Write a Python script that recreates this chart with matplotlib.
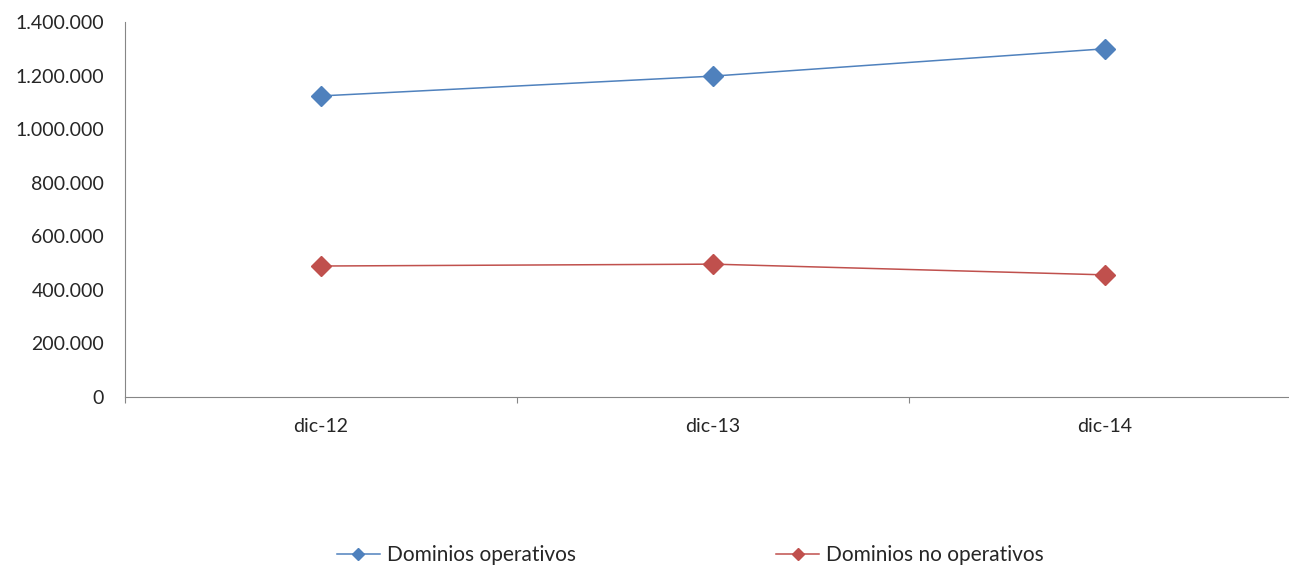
import matplotlib.pyplot as plt
from matplotlib.ticker import FuncFormatter, FixedLocator

categorias = ['dic-12', 'dic-13', 'dic-14']
operativos = [1124000, 1198000, 1300000]
no_operativos = [489000, 496000, 456000]

plt.rcParams['font.family'] = ['Lato', 'DejaVu Sans']

fig = plt.figure(figsize=(12.89, 5.68), dpi=100)
ax = fig.add_axes([125 / 1289, 1 - 397 / 568, 1 - 125 / 1289, (397 - 22) / 568])

x = range(len(categorias))
ax.plot(x, operativos, color='#4F81BD', lw=1.1, marker='D', ms=10.5,
        label='Dominios operativos')
ax.plot(x, no_operativos, color='#C0504D', lw=1.1, marker='D', ms=10.5,
        label='Dominios no operativos')

ax.set_ylim(0, 1400000)
ax.set_xlim(-0.5, 2.5 - 12 / 392)
ax.set_yticks(range(0, 1400001, 200000))
ax.yaxis.set_major_formatter(FuncFormatter(lambda v, p: f'{int(v):,}'.replace(',', '.')))

# category boundaries get the tick marks, labels sit at the centres
ax.xaxis.set_major_locator(FixedLocator([-0.5, 0.5, 1.5, 2.5]))
ax.xaxis.set_minor_locator(FixedLocator(list(x)))
ax.xaxis.set_major_formatter(FuncFormatter(lambda v, p: ''))
ax.set_xticks(list(x), categorias, minor=True)
ax.tick_params(axis='x', which='major', length=4.5, color='#868686', width=0.8)
ax.tick_params(axis='x', which='minor', length=0, pad=15, labelsize=14, labelcolor='#262626')
ax.tick_params(axis='y', length=0, pad=15, labelsize=14, labelcolor='#262626')

for s in ['top', 'right']:
    ax.spines[s].set_visible(False)
for s in ['left', 'bottom']:
    ax.spines[s].set_color('#868686')
    ax.spines[s].set_linewidth(0.8)
ax.spines['left'].set_bounds(0, 1400000)

fig.legend(loc='center', bbox_to_anchor=(690 / 1289, 1 - 555 / 568), ncol=2,
           frameon=False, fontsize=15, handlelength=2.1, handletextpad=0.3,
           columnspacing=9.6, markerscale=0.6, labelcolor='#262626')

fig.savefig('out.png', dpi=100)
